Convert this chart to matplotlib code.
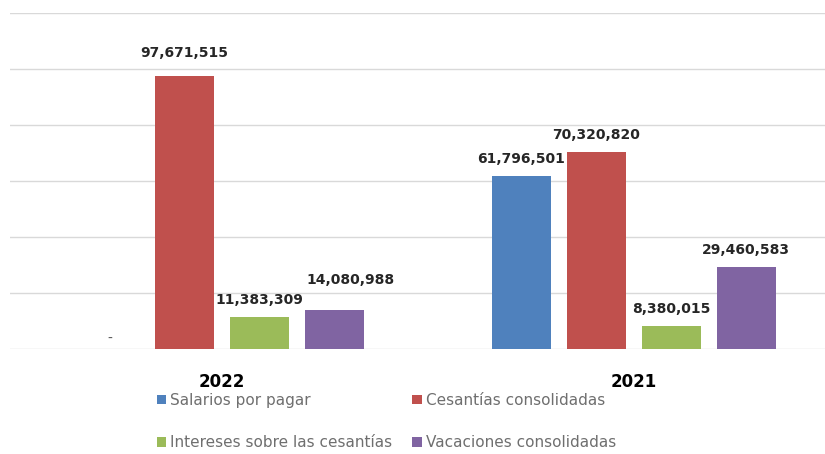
import matplotlib.pyplot as plt
import numpy as np

plt.rcParams['font.family'] = ['DejaVu Sans']

# datos
years = ['2022', '2021']
series = ['Salarios por pagar', 'Cesantías consolidadas',
          'Intereses sobre las cesantías', 'Vacaciones consolidadas']
values = {
    'Salarios por pagar': [0, 61796501],
    'Cesantías consolidadas': [97671515, 70320820],
    'Intereses sobre las cesantías': [11383309, 8380015],
    'Vacaciones consolidadas': [14080988, 29460583],
}
colors = ['#4F81BD', '#C0504D', '#9BBB59', '#8064A2']

fig = plt.figure(figsize=(8.25, 4.54), dpi=100)
ax = fig.add_axes([10 / 825, 1 - 349 / 454, 815 / 825, 336 / 454])

# desplazamientos de etiquetas (en puntos) que se mueven para no chocar
label_shift = {(1, 0): (0, 16.5), (3, 0): (11.5, 21)}

x = np.arange(len(years))
step = 0.182
width = 0.143
bars = []
for i, name in enumerate(series):
    pos = x + (i - 1.5) * step
    vals = values[name]
    b = ax.bar(pos, vals, width, color=colors[i], label=name, zorder=3)
    bars.append(b)
    for j, (p, v) in enumerate(zip(pos, vals)):
        if v == 0:
            ax.text(p, 12e5, '-', ha='center', va='bottom', fontsize=10, color='#595959')
        else:
            off = label_shift.get((i, j), (0, 12))
            ax.annotate(f'{v:,}', (p, v), xytext=off, textcoords='offset points',
                        ha='center', va='center', fontsize=10, fontweight='bold',
                        color='#262626')

ax.set_ylim(0, 120e6)
ax.set_xlim(-0.515, 1.464)
ax.set_yticks(np.arange(0, 120e6 + 1, 20e6))
ax.yaxis.grid(True, color='#D9D9D9', linewidth=1, zorder=0)
ax.tick_params(axis='y', left=False, labelleft=False)
ax.tick_params(axis='x', bottom=False, pad=14)
ax.set_xticks(x)
ax.set_xticklabels(years, fontsize=12, fontweight='bold')
for s in ax.spines.values():
    s.set_visible(False)

# leyenda por filas
order = [0, 2, 1, 3]
leg = fig.legend([bars[i] for i in order], [series[i] for i in order],
                 loc='upper left', bbox_to_anchor=(143 / 825, 1 - 379 / 454), ncol=2,
                 frameon=False, fontsize=11, handlelength=0.6, handleheight=0.6,
                 handletextpad=0.3, labelspacing=1.8, columnspacing=1.3)
for t in leg.get_texts():
    t.set_color('#6F6F6F')

fig.savefig('out.png', dpi=100)
